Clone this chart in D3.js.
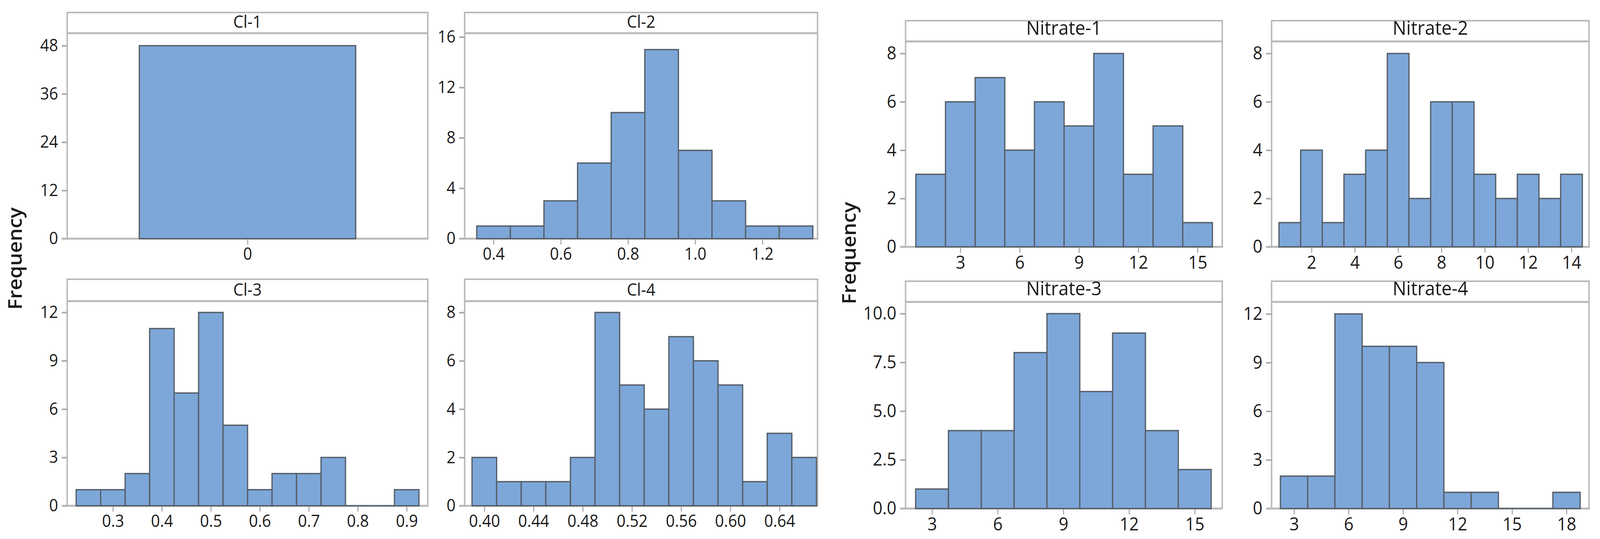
<!DOCTYPE html>
<html>
<head>
<meta charset="utf-8">
<script src="https://cdn.jsdelivr.net/npm/d3@7/dist/d3.min.js"></script>
<style>
  html, body { margin: 0; padding: 0; background: #ffffff; overflow: hidden; width: 100%; height: 100%; }
  svg { display: block; width: 100vw; height: 100vh; }
  text { font-family: "Open Sans", "Noto Sans", sans-serif; fill: #1a1a1a; }
</style>
</head>
<body>
<svg id="chart" viewBox="0 0 4380 1380" preserveAspectRatio="none"></svg>
<script>
// ---------------- DATA ----------------
const panelTitles = ["Cl-1", "Cl-2", "Cl-3", "Cl-4", "Nitrate-1", "Nitrate-2", "Nitrate-3", "Nitrate-4"];

const ci1Centers = [0];
const ci1Counts  = [48];
const ci2Centers = [0.4, 0.5, 0.6, 0.7, 0.8, 0.9, 1.0, 1.1, 1.2, 1.3];
const ci2Counts  = [1, 1, 3, 6, 10, 15, 7, 3, 1, 1];
const ci3Centers = [0.25, 0.30, 0.35, 0.40, 0.45, 0.50, 0.55, 0.60, 0.65, 0.70, 0.75, 0.80, 0.85, 0.90];
const ci3Counts  = [1, 1, 2, 11, 7, 12, 5, 1, 2, 2, 3, 0, 0, 1];
const ci4Centers = [0.40, 0.42, 0.44, 0.46, 0.48, 0.50, 0.52, 0.54, 0.56, 0.58, 0.60, 0.62, 0.64, 0.66];
const ci4Counts  = [2, 1, 1, 1, 2, 8, 5, 4, 7, 6, 5, 1, 3, 2];

const n1Centers = [1.5, 3, 4.5, 6, 7.5, 9, 10.5, 12, 13.5, 15];
const n1Counts  = [3, 6, 7, 4, 6, 5, 8, 3, 5, 1];
const n2Centers = [1, 2, 3, 4, 5, 6, 7, 8, 9, 10, 11, 12, 13, 14];
const n2Counts  = [1, 4, 1, 3, 4, 8, 2, 6, 6, 3, 2, 3, 2, 3];
const n3Centers = [3, 4.5, 6, 7.5, 9, 10.5, 12, 13.5, 15];
const n3Counts  = [1, 4, 4, 8, 10, 6, 9, 4, 2];
const n4Centers = [3, 4.5, 6, 7.5, 9, 10.5, 12, 13.5, 15, 16.5, 18];
const n4Counts  = [2, 2, 12, 10, 10, 9, 1, 1, 0, 0, 1];

// tick values and labels
const ci1XTicks = [0],                    ci1XLabels = ["0"];
const ci2XTicks = [0.4, 0.6, 0.8, 1.0, 1.2], ci2XLabels = ["0.4", "0.6", "0.8", "1.0", "1.2"];
const ci3XTicks = [0.3, 0.4, 0.5, 0.6, 0.7, 0.8, 0.9], ci3XLabels = ["0.3", "0.4", "0.5", "0.6", "0.7", "0.8", "0.9"];
const ci4XTicks = [0.40, 0.44, 0.48, 0.52, 0.56, 0.60, 0.64], ci4XLabels = ["0.40", "0.44", "0.48", "0.52", "0.56", "0.60", "0.64"];
const n1XTicks = [3, 6, 9, 12, 15],       n1XLabels = ["3", "6", "9", "12", "15"];
const n2XTicks = [2, 4, 6, 8, 10, 12, 14], n2XLabels = ["2", "4", "6", "8", "10", "12", "14"];
const n3XTicks = [3, 6, 9, 12, 15],       n3XLabels = ["3", "6", "9", "12", "15"];
const n4XTicks = [3, 6, 9, 12, 15, 18],   n4XLabels = ["3", "6", "9", "12", "15", "18"];

const ci1YTicks = [0, 12, 24, 36, 48],    ci1YLabels = ["0", "12", "24", "36", "48"];
const ci2YTicks = [0, 4, 8, 12, 16],      ci2YLabels = ["0", "4", "8", "12", "16"];
const ci3YTicks = [0, 3, 6, 9, 12],       ci3YLabels = ["0", "3", "6", "9", "12"];
const ci4YTicks = [0, 2, 4, 6, 8],        ci4YLabels = ["0", "2", "4", "6", "8"];
const n1YTicks = [0, 2, 4, 6, 8],         n1YLabels = ["0", "2", "4", "6", "8"];
const n2YTicks = [0, 2, 4, 6, 8],         n2YLabels = ["0", "2", "4", "6", "8"];
const n3YTicks = [0, 2.5, 5, 7.5, 10],    n3YLabels = ["0.0", "2.5", "5.0", "7.5", "10.0"];
const n4YTicks = [0, 3, 6, 9, 12],        n4YLabels = ["0", "3", "6", "9", "12"];

const yAxisTitle = "Frequency";

// ---------------- LAYOUT ----------------
const BAR_FILL = "#7da7d9";
const BAR_STROKE = "#56606b";
const FRAME = "#b9b9b9";
const TICK = "#a8a8a8";

const colA = { left: 184, right: 1171 }, colB = { left: 1272, right: 2238 };
const colC = { left: 2479, right: 3346 }, colD = { left: 3481, right: 4350 };
const rowCI1 = { top: 32, strip: 85, zero: 611 }, rowCI2 = { top: 715, strip: 771, zero: 1295 };
const rowN1 = { top: 53, strip: 106, zero: 632 }, rowN2 = { top: 720, strip: 773, zero: 1302 };
const ciFont = { tick: 43, title: 44, titleOff: 14 };
const nFont  = { tick: 46, title: 50, titleOff: 17 };

const panels = [
  { title: panelTitles[0], col: colA, row: rowCI1, f: ciFont, xDom: [-0.5, 0.5], yMax: 51.1, bw: 0.6,
    centers: ci1Centers, counts: ci1Counts, xt: ci1XTicks, xl: ci1XLabels, yt: ci1YTicks, yl: ci1YLabels },
  { title: panelTitles[1], col: colB, row: rowCI1, f: ciFont, xDom: [0.314, 1.364], yMax: 16.3, bw: 0.1,
    centers: ci2Centers, counts: ci2Counts, xt: ci2XTicks, xl: ci2XLabels, yt: ci2YTicks, yl: ci2YLabels },
  { title: panelTitles[2], col: colA, row: rowCI2, f: ciFont, xDom: [0.2067, 0.943], yMax: 12.7, bw: 0.05,
    centers: ci3Centers, counts: ci3Counts, xt: ci3XTicks, xl: ci3XLabels, yt: ci3YTicks, yl: ci3YLabels },
  { title: panelTitles[3], col: colB, row: rowCI2, f: ciFont, xDom: [0.384, 0.6709], yMax: 8.47, bw: 0.02,
    centers: ci4Centers, counts: ci4Counts, xt: ci4XTicks, xl: ci4XLabels, yt: ci4YTicks, yl: ci4YLabels },
  { title: panelTitles[4], col: colC, row: rowN1, f: nFont, xDom: [0.23, 16.25], yMax: 8.5, bw: 1.5,
    centers: n1Centers, counts: n1Counts, xt: n1XTicks, xl: n1XLabels, yt: n1YTicks, yl: n1YLabels },
  { title: panelTitles[5], col: colD, row: rowN1, f: nFont, xDom: [0.16, 14.81], yMax: 8.5, bw: 1,
    centers: n2Centers, counts: n2Counts, xt: n2XTicks, xl: n2XLabels, yt: n2YTicks, yl: n2YLabels },
  { title: panelTitles[6], col: colC, row: rowN2, f: nFont, xDom: [1.79, 16.26], yMax: 10.6, bw: 1.5,
    centers: n3Centers, counts: n3Counts, xt: n3XTicks, xl: n3XLabels, yt: n3YTicks, yl: n3YLabels },
  { title: panelTitles[7], col: colD, row: rowN2, f: nFont, xDom: [1.765, 19.24], yMax: 12.74, bw: 1.5,
    centers: n4Centers, counts: n4Counts, xt: n4XTicks, xl: n4XLabels, yt: n4YTicks, yl: n4YLabels }
];

const svg = d3.select("#chart");

panels.forEach(p => {
  const L = p.col.left, R = p.col.right, T = p.row.top, S = p.row.strip, Z = p.row.zero;
  const x = d3.scaleLinear().domain(p.xDom).range([L, R]);
  const y = d3.scaleLinear().domain([0, p.yMax]).range([Z, S]);
  const g = svg.append("g");

  // frame
  g.append("rect").attr("x", L).attr("y", T).attr("width", R - L).attr("height", Z - T)
    .attr("fill", "#ffffff").attr("stroke", FRAME).attr("stroke-width", 4);
  g.append("line").attr("x1", L).attr("x2", R).attr("y1", S).attr("y2", S)
    .attr("stroke", FRAME).attr("stroke-width", 5);

  // title
  g.append("text").attr("x", (L + R) / 2).attr("y", S - p.f.titleOff)
    .attr("text-anchor", "middle").attr("font-size", p.f.title).text(p.title);

  // axes
  const yAxis = d3.axisLeft(y).tickValues(p.yt).tickFormat((d, i) => p.yl[i])
    .tickSize(15).tickPadding(10);
  const ya = g.append("g").attr("transform", `translate(${L},0)`).call(yAxis);
  ya.select(".domain").remove();
  ya.selectAll(".tick line").attr("stroke", TICK).attr("stroke-width", 4);
  ya.selectAll(".tick text").attr("font-size", p.f.tick).attr("fill", "#1a1a1a")
    .style("font-family", '"Open Sans", sans-serif');

  const xAxis = d3.axisBottom(x).tickValues(p.xt).tickFormat((d, i) => p.xl[i])
    .tickSize(15).tickPadding(8);
  const xa = g.append("g").attr("transform", `translate(0,${Z})`).call(xAxis);
  xa.select(".domain").remove();
  xa.selectAll(".tick line").attr("stroke", TICK).attr("stroke-width", 3);
  xa.selectAll(".tick text").attr("font-size", p.f.tick).attr("fill", "#1a1a1a")
    .style("font-family", '"Open Sans", sans-serif');

  // bottom axis line
  g.append("line").attr("x1", L - 15).attr("x2", R + 2).attr("y1", Z).attr("y2", Z)
    .attr("stroke", FRAME).attr("stroke-width", 5);

  // bars
  const bars = p.centers.map((c, i) => ({ c, n: p.counts[i] }));
  g.selectAll("path.bar").data(bars).enter().append("path").attr("class", "bar")
    .attr("d", d => {
      const x0 = x(d.c - p.bw / 2), x1 = x(d.c + p.bw / 2), y0 = y(0), y1 = y(d.n);
      return `M${x0},${y0}V${y1}H${x1}V${y0}Z`;
    })
    .attr("fill", BAR_FILL).attr("stroke", BAR_STROKE).attr("stroke-width", 3.5)
    .attr("stroke-linejoin", "miter");
});

// y-axis titles
svg.append("text").attr("transform", "translate(60,662) rotate(-90)")
  .attr("text-anchor", "middle").attr("font-size", 52).attr("font-weight", 600).text(yAxisTitle);
svg.append("text").attr("transform", "translate(2343,648) rotate(-90)")
  .attr("text-anchor", "middle").attr("font-size", 52).attr("font-weight", 600).text(yAxisTitle);
</script>
</body>
</html>
